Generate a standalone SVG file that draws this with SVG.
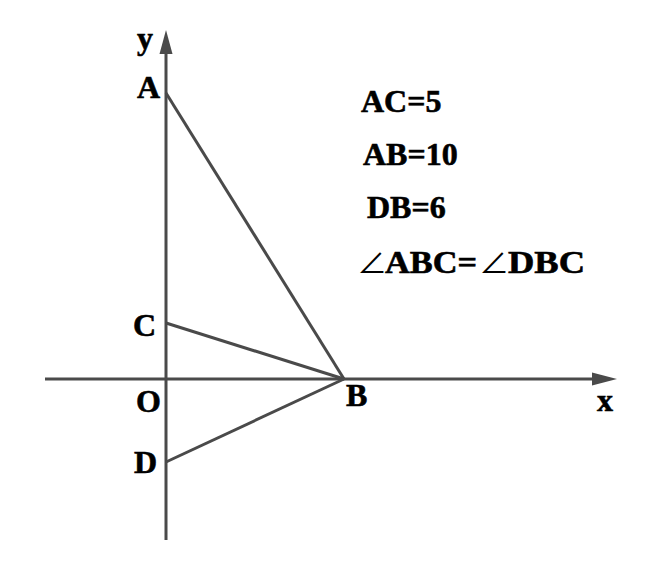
<svg xmlns="http://www.w3.org/2000/svg" width="661" height="567" viewBox="0 0 661 567">
<style>
.ln{stroke:#4a4a4a;stroke-width:3;fill:none;stroke-linecap:butt}
.t{font-family:"Liberation Serif","Times New Roman",serif;font-weight:bold;font-size:32px;fill:#000;stroke:#000;stroke-width:0.6}
.ang{font-family:"Noto Sans CJK SC","DejaVu Sans",sans-serif;font-weight:normal;font-size:30px;stroke:none}
</style>
<rect width="661" height="567" fill="#fff"/>
<g id="connectors">
<line class="ln" x1="166" y1="540" x2="166" y2="52"/>
<polygon points="166,30 159.5,54 172.5,54" fill="#4a4a4a"/>
<line class="ln" x1="45" y1="379" x2="594" y2="379"/>
<polygon points="617,379 592,372.5 592,385.5" fill="#4a4a4a"/>
<line class="ln" x1="166" y1="93" x2="344" y2="379"/>
<line class="ln" x1="166" y1="323" x2="344" y2="379"/>
<line class="ln" x1="166" y1="462" x2="344" y2="379"/>
</g>
<g id="labels">
<text class="t" x="137" y="49">y</text>
<text class="t" x="137" y="98">A</text>
<text class="t" x="133" y="336">C</text>
<text class="t" x="136" y="412">O</text>
<text class="t" x="346" y="406">B</text>
<text class="t" x="134" y="473">D</text>
<text class="t" x="597" y="411">x</text>
</g>
<g id="equations">
<text class="t" x="361" y="112">AC=5</text>
<text class="t" x="363" y="165">AB=10</text>
<text class="t" x="367" y="218">DB=6</text>
<text class="t" y="273"><tspan class="ang" x="357">∠</tspan><tspan x="385" textLength="92" lengthAdjust="spacingAndGlyphs">ABC=</tspan><tspan class="ang" x="479">∠</tspan><tspan x="508" textLength="77" lengthAdjust="spacingAndGlyphs">DBC</tspan></text>
</g>
</svg>
